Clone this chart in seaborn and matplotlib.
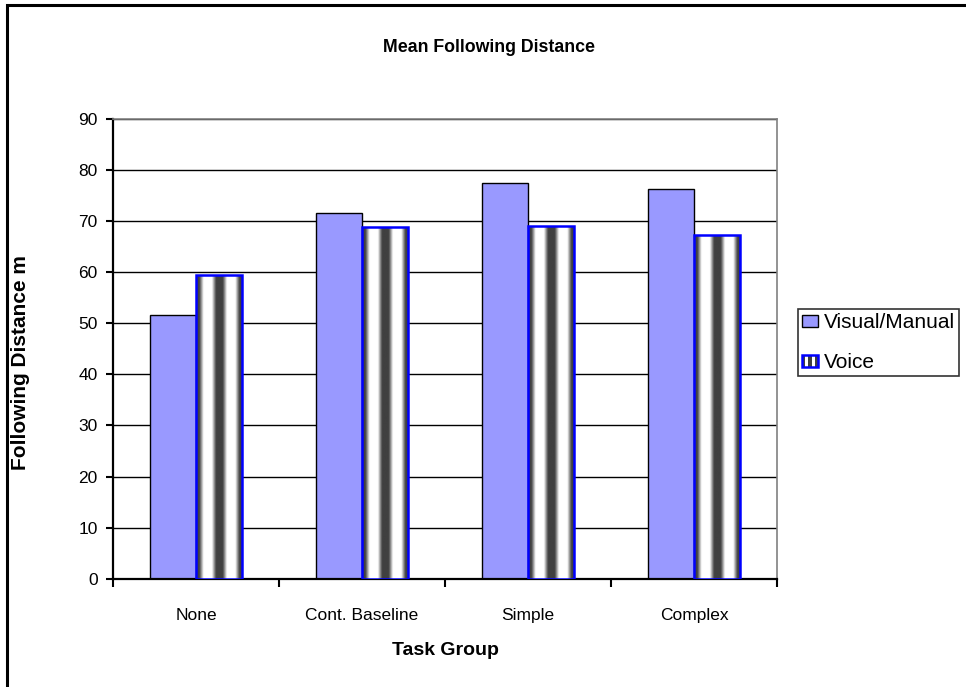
import numpy as np
import pandas as pd
import matplotlib
matplotlib.use("Agg")
import matplotlib.pyplot as plt
import matplotlib.patches as mpatches
from matplotlib.legend_handler import HandlerBase
import seaborn as sns

# ---- data ----
categories = ["None", "Cont. Baseline", "Simple", "Complex"]
visual_manual = [51.6, 71.5, 77.4, 76.2]
voice = [59.5, 68.9, 69.1, 67.3]
series_names = ["Visual/Manual", "Voice"]
y_ticks = [0, 10, 20, 30, 40, 50, 60, 70, 80, 90]

df = pd.DataFrame({
    "Task Group": categories * 2,
    "value": visual_manual + voice,
    "series": [series_names[0]] * len(categories) + [series_names[1]] * len(categories),
})

sns.set_theme(style="white")
plt.rcParams["font.family"] = ["Liberation Sans", "DejaVu Sans"]

VM_COLOR = "#9999FF"
VOICE_EDGE = "#0000FF"
DARK = 0.25

fig = plt.figure(figsize=(9.66, 6.87), dpi=100)
ax = fig.add_axes([113 / 966, 1 - 578.7 / 687, (777 - 113) / 966, (578.7 - 119) / 687])

sns.barplot(data=df, x="Task Group", y="value", hue="series",
            palette=[VM_COLOR, "#404040"], width=0.555, ax=ax,
            saturation=1, legend=False, errorbar=None)

ax.set_xlim(-0.5, len(categories) - 0.5)
ax.set_ylim(0, 90)
ax.set_yticks(y_ticks)
ax.set_yticklabels([str(t) for t in y_ticks], fontsize=12.5)

# gradient profile for "Voice" bars (cylinder-like stripes)
t = np.linspace(0, 1, 200)
prof = 0.5 - 0.5 * np.cos(4 * np.pi * t)
prof = np.clip((prof - 0.45) * 1.8 + 0.5, 0, 1)
prof = DARK + (1 - DARK) * prof
grad = prof[np.newaxis, :]

n = len(categories)
bars = ax.patches
for i, p in enumerate(bars[:2 * n]):
    if i < n:
        p.set_edgecolor("black")
        p.set_linewidth(1.0)
        p.set_zorder(2)
    else:
        p.set_zorder(2)
        x0, w, h = p.get_x(), p.get_width(), p.get_height()
        im = ax.imshow(grad, cmap="gray", vmin=0, vmax=1, aspect="auto",
                       extent=[x0, x0 + w, 0, h], zorder=3, interpolation="bilinear")
        im.set_clip_path(p)
        p.set_edgecolor("none")
        ax.add_patch(mpatches.Rectangle((x0, 0), w, h, fill=False,
                                        edgecolor=VOICE_EDGE, linewidth=1.8, zorder=4))

# grid / spines (Excel style)
ax.set_axisbelow(True)
ax.yaxis.grid(True, color="black", linewidth=1.0)
ax.xaxis.grid(False)
for s in ["left", "bottom"]:
    ax.spines[s].set_color("black")
    ax.spines[s].set_linewidth(1.6)
for s in ["top", "right"]:
    ax.spines[s].set_color("#808080")
    ax.spines[s].set_linewidth(1.2)

ax.tick_params(axis="y", which="major", direction="out", length=5, width=1.5,
               color="black", left=True, pad=6, labelcolor="black")
ax.set_xticks(range(n))
ax.set_xticklabels(categories, fontsize=12.5)
ax.set_xticks(np.arange(-0.5, n, 1.0), minor=True)
ax.tick_params(axis="x", which="major", length=0, pad=21, labelcolor="black")
ax.tick_params(axis="x", which="minor", direction="out", length=6, width=1.5,
               color="black", bottom=True)

ax.set_xlabel("Task Group", fontsize=14, fontweight="bold", labelpad=14, color="black")
ax.set_ylabel("Following Distance m", fontsize=15, fontweight="bold", color="black")
ax.yaxis.set_label_coords(-(113 - 30) / (777 - 113), 0.47)
fig.text(489 / 966, 1 - 48 / 687, "Mean Following Distance", ha="center", va="center",
         fontsize=12.8, fontweight="bold", color="black")

# legend with custom handles
class StripeHandler(HandlerBase):
    def create_artists(self, legend, orig_handle, xdescent, ydescent, width, height, fontsize, trans):
        arts = []
        k = 5
        vals = [DARK, 1.0, DARK, 1.0, DARK]
        sw = width / k
        for j in range(k):
            g = vals[j]
            arts.append(mpatches.Rectangle((-xdescent + j * sw, -ydescent), sw, height,
                                           facecolor=(g, g, g), edgecolor="none", transform=trans))
        arts.append(mpatches.Rectangle((-xdescent, -ydescent), width, height, fill=False,
                                       edgecolor=VOICE_EDGE, linewidth=1.8, transform=trans))
        return arts

h_vm = mpatches.Patch(facecolor=VM_COLOR, edgecolor="black", linewidth=1.0)
h_vo = mpatches.Patch(facecolor="#404040", edgecolor=VOICE_EDGE)
leg = fig.legend([h_vm, h_vo], series_names, loc="upper left",
                 bbox_to_anchor=(798 / 966, 1 - 309 / 687), bbox_transform=fig.transFigure,
                 fontsize=15, frameon=True, fancybox=False, shadow=False,
                 handlelength=0.75, handleheight=0.5, handletextpad=0.3,
                 borderpad=0.2, labelspacing=1.0, borderaxespad=0,
                 handler_map={h_vo: StripeHandler()})
leg.get_frame().set_edgecolor("black")
leg.get_frame().set_linewidth(1.2)
for txt in leg.get_texts():
    txt.set_color("black")

# outer chart-area frame (left and top visible)
fig.patches.append(mpatches.Rectangle((6.5 / 966, -0.1), 1.2, 1.1 - 5 / 687, fill=False,
                                      edgecolor="black", linewidth=2.2,
                                      transform=fig.transFigure, figure=fig))

fig.savefig("out.png", dpi=100)
